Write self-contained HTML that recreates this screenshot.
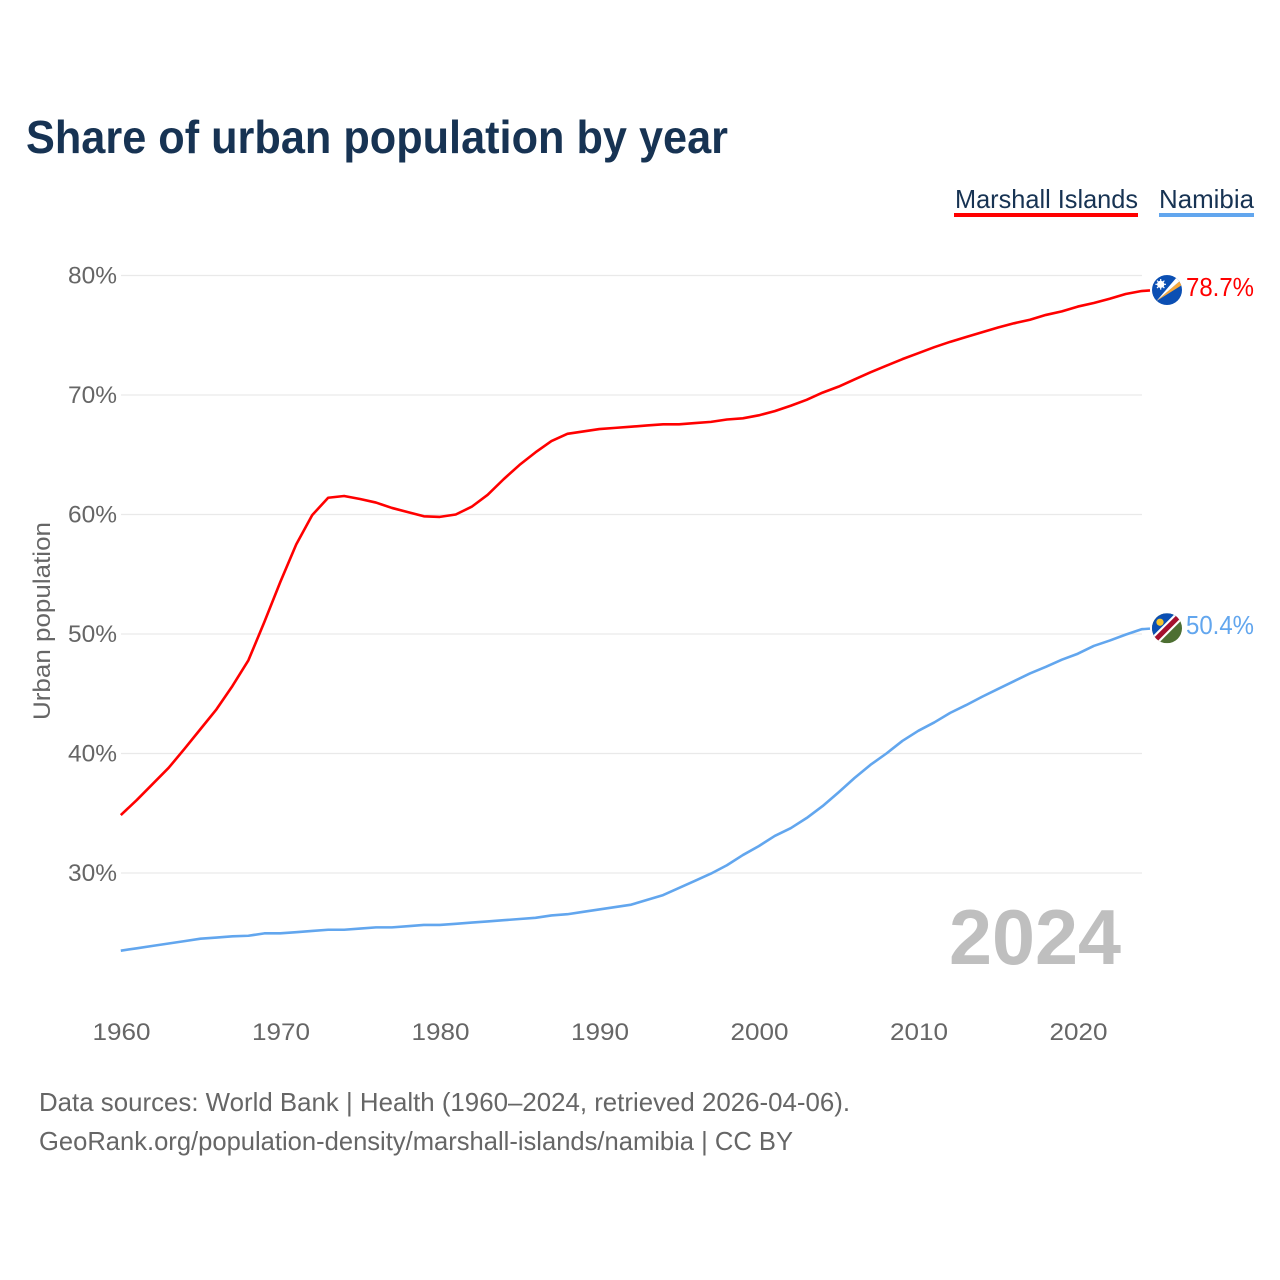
<!DOCTYPE html>
<html lang="en">
<head>
<meta charset="utf-8">
<title>Share of urban population by year</title>
<style>
html,body{margin:0;padding:0;background:#fff;width:1280px;height:1280px;overflow:hidden}
svg{display:block}
text{font-family:"Liberation Sans",sans-serif}
</style>
</head>
<body>
<svg id="chart" width="1280" height="1280" viewBox="0 0 1280 1280" xmlns="http://www.w3.org/2000/svg">
<rect width="1280" height="1280" fill="#fff"/>
<text x="26" y="153" font-size="46" font-weight="700" fill="#173353" textLength="702" lengthAdjust="spacingAndGlyphs">Share of urban population by year</text>

<g>
<text x="955" y="208" font-size="26" fill="#173353" textLength="183" lengthAdjust="spacingAndGlyphs">Marshall Islands</text>
<rect x="954" y="213" width="184" height="4" fill="#ff0000"/>
</g>
<g>
<text x="1159" y="208" font-size="26" fill="#173353" textLength="95" lengthAdjust="spacingAndGlyphs">Namibia</text>
<rect x="1159" y="213" width="95" height="4" fill="#62a6ee"/>
</g>

<g id="grid"></g>
<g id="yticks"></g>
<g id="xticks"></g>

<text transform="translate(50,621) rotate(-90)" text-anchor="middle" font-size="24" fill="#666666" textLength="198" lengthAdjust="spacingAndGlyphs">Urban population</text>

<text x="949" y="964" font-size="78" font-weight="700" fill="#bfbfbf" textLength="172" lengthAdjust="spacingAndGlyphs">2024</text>

<path id="line-marshall" fill="none" stroke="#ff0000" stroke-width="2.6" stroke-linejoin="round"/>
<path id="line-namibia" fill="none" stroke="#62a6ee" stroke-width="2.6" stroke-linejoin="round"/>

<defs>
<clipPath id="clip-mh"><circle cx="0" cy="0" r="15"/></clipPath>
<clipPath id="clip-na"><circle cx="0" cy="0" r="15"/></clipPath>
</defs>

<g id="flag-marshall">
<g clip-path="url(#clip-mh)">
<rect x="-15" y="-15" width="30" height="30" fill="#0b4fb3"/>
<polygon points="-10.5,11 14,-10 15,-5" fill="#f7a83a"/>
<polygon points="-10.5,11 10,-13 14,-10" fill="#ffffff"/>
<circle cx="-6.3" cy="-5.7" r="3.6" fill="#ffffff"/>
<path d="M-6.3,-11 L-6.3,-0.4 M-11.6,-5.7 L-1,-5.7 M-10,-9.4 L-2.6,-2 M-2.6,-9.4 L-10,-2" stroke="#ffffff" stroke-width="1.2"/>
</g>
</g>
<g id="flag-namibia">
<g clip-path="url(#clip-na)">
<rect x="-15" y="-15" width="30" height="30" fill="#4d6f32"/>
<polygon points="-15,-15 15,-15 -15,15" fill="#0b4fb3"/>
<polygon points="-15,8.5 8.5,-15 15,-15 15,-8.5 -8.5,15 -15,15" fill="#ffffff"/>
<polygon points="-15,11.5 11.5,-15 15,-15 15,-11.5 -11.5,15 -15,15" fill="#a5102e"/>
<circle cx="-7" cy="-6" r="3.6" fill="#f5c52e"/>
</g>
</g>

<text id="end-marshall" x="1254" y="296" text-anchor="end" font-size="26" fill="#ff0000" textLength="68" lengthAdjust="spacingAndGlyphs"></text>
<text id="end-namibia" x="1254" y="634" text-anchor="end" font-size="26" fill="#62a6ee" textLength="68" lengthAdjust="spacingAndGlyphs"></text>

<text x="39" y="1111" font-size="26" fill="#666666" textLength="811" lengthAdjust="spacingAndGlyphs">Data sources: World Bank | Health (1960–2024, retrieved 2026-04-06).</text>
<text x="39" y="1150" font-size="26" fill="#666666" textLength="754" lengthAdjust="spacingAndGlyphs">GeoRank.org/population-density/marshall-islands/namibia | CC BY</text>
</svg>
<script>
const startYear = 1960;
const xTickYears = [1960, 1970, 1980, 1990, 2000, 2010, 2020];
const yTickValues = [30, 40, 50, 60, 70, 80];
const marshallValues = [34.85,36.1,37.45,38.8,40.4,42.05,43.7,45.65,47.8,51.0,54.35,57.5,59.95,61.4,61.55,61.3,61.0,60.55,60.2,59.85,59.8,60.0,60.65,61.65,62.95,64.15,65.2,66.15,66.75,66.95,67.15,67.25,67.35,67.45,67.55,67.55,67.65,67.75,67.95,68.05,68.3,68.65,69.1,69.6,70.2,70.7,71.3,71.9,72.45,73.0,73.5,74.0,74.45,74.85,75.25,75.65,76.0,76.3,76.7,77.0,77.4,77.7,78.05,78.45,78.7];
const namibiaValues = [23.5,23.7,23.9,24.1,24.3,24.5,24.6,24.7,24.75,24.95,24.95,25.05,25.15,25.25,25.25,25.35,25.45,25.45,25.55,25.65,25.65,25.75,25.85,25.95,26.05,26.15,26.25,26.45,26.55,26.75,26.95,27.15,27.35,27.75,28.15,28.75,29.35,29.95,30.65,31.5,32.25,33.1,33.75,34.6,35.6,36.75,37.95,39.05,40.0,41.05,41.9,42.6,43.4,44.05,44.75,45.4,46.05,46.7,47.25,47.85,48.35,49.0,49.45,49.95,50.4];

const NS = 'http://www.w3.org/2000/svg';
function xScale(year) { return 120.8 + (year - 1960) * 15.95; }
function yScale(value) { return 275.5 + (80 - value) * 11.95; }

const grid = document.getElementById('grid');
const yticks = document.getElementById('yticks');
const xticks = document.getElementById('xticks');

yTickValues.forEach(function (v) {
  const line = document.createElementNS(NS, 'line');
  line.setAttribute('x1', 121);
  line.setAttribute('x2', 1142);
  line.setAttribute('y1', yScale(v));
  line.setAttribute('y2', yScale(v));
  line.setAttribute('stroke', '#e9e9e9');
  line.setAttribute('stroke-width', '1.2');
  
  
  grid.appendChild(line);

  const t = document.createElementNS(NS, 'text');
  t.setAttribute('x', 68);
  t.setAttribute('y', yScale(v) + 8);
  t.setAttribute('font-size', '24');
  t.setAttribute('fill', '#666666');
  t.setAttribute('textLength', '49');
  t.setAttribute('lengthAdjust', 'spacingAndGlyphs');
  
  
  t.textContent = v + '%';
  yticks.appendChild(t);
});

xTickYears.forEach(function (y) {
  const t = document.createElementNS(NS, 'text');
  t.setAttribute('x', xScale(y) - 28.3);
  t.setAttribute('y', 1040);
  t.setAttribute('font-size', '24');
  t.setAttribute('fill', '#666666');
  t.setAttribute('textLength', '58');
  t.setAttribute('lengthAdjust', 'spacingAndGlyphs');
  
  
  t.textContent = y;
  xticks.appendChild(t);
});

function lastOf(values) { return values[values.length - 1]; }

function linePath(values) {
  const body = values.map(function (v, i) {
    return (i ? 'L' : 'M') + xScale(startYear + i).toFixed(2) + ',' + yScale(v).toFixed(2);
  }).join(' ');
  return body + ' L1150,' + (yScale(lastOf(values)) - 0.6).toFixed(2);
}

const marshallPath = document.getElementById('line-marshall');
const namibiaPath = document.getElementById('line-namibia');
marshallPath.setAttribute('d', linePath(marshallValues));
namibiaPath.setAttribute('d', linePath(namibiaValues));

document.getElementById('flag-marshall').setAttribute('transform', 'translate(1167,' + (yScale(lastOf(marshallValues)) - 1) + ')');
document.getElementById('flag-namibia').setAttribute('transform', 'translate(1167,' + (yScale(lastOf(namibiaValues)) - 1) + ')');

const endMarshall = document.getElementById('end-marshall');
const endNamibia = document.getElementById('end-namibia');
endMarshall.textContent = lastOf(marshallValues).toFixed(1) + '%';
endNamibia.textContent = lastOf(namibiaValues).toFixed(1) + '%';
endMarshall.setAttribute('y', yScale(lastOf(marshallValues)) + 5);
endNamibia.setAttribute('y', yScale(lastOf(namibiaValues)) + 5);
</script>
</body>
</html>
